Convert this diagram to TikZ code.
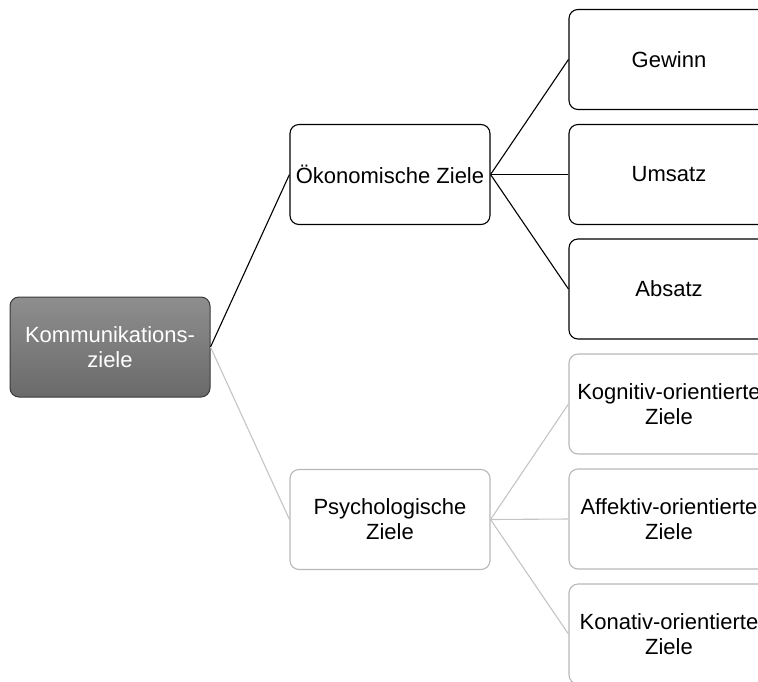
\documentclass[tikz,border=0pt]{standalone}
\usepackage{fontspec}
\setmainfont{Liberation Sans}
\definecolor{lightline}{HTML}{C4C4C4}
\definecolor{lightborder}{HTML}{B8B8B8}
\definecolor{rootborder}{HTML}{3A3A3A}
\definecolor{roottop}{HTML}{8E8E8E}
\definecolor{rootbottom}{HTML}{6A6A6A}
\begin{document}
\begin{tikzpicture}[x=1pt,y=-1pt,
  box/.style={rounded corners=9pt, minimum width=200pt, minimum height=100pt,
    inner sep=0pt, align=center, font=\fontsize{22}{25}\selectfont},
  rootbox/.style={box, draw=rootborder, line width=1pt, top color=roottop,
    bottom color=rootbottom, text=white},
  ecobox/.style={box, draw=black, line width=1.1pt, fill=white},
  psybox/.style={box, draw=lightborder, line width=1.1pt, fill=white},
  ecoline/.style={draw=black, line width=1.1pt},
  psyline/.style={draw=lightline, line width=1.1pt}]
\useasboundingbox (0,0) rectangle (758,681);
\clip (0,0) rectangle (758,681);

% first and second level
\node[rootbox] (root) at (110,347) {Kommunikations-\\ziele};
\node[ecobox]  (oek)  at (390,174.5) {Ökonomische Ziele};
\node[psybox]  (psy)  at (390,519.5) {Psychologische\\Ziele};

% economic goals
\node[ecobox] (gew) at (669,59.5)  {Gewinn};
\node[ecobox] (ums) at (669,174.5) {Umsatz};
\node[ecobox] (abs) at (669,289)   {Absatz};

% psychological goals
\node[psybox] (kog) at (669,404) {Kognitiv-orientierte\\Ziele};
\node[psybox] (aff) at (669,519) {Affektiv-orientierte\\Ziele};
\node[psybox] (kon) at (669,634) {Konativ-orientierte\\Ziele};

% connectors
\draw[ecoline] (root.east) -- (oek.west);
\draw[psyline] (root.east) -- (psy.west);
\draw[ecoline] (oek.east) -- (gew.west);
\draw[ecoline] (oek.east) -- (ums.west);
\draw[ecoline] (oek.east) -- (abs.west);
\draw[psyline] (psy.east) -- (kog.west);
\draw[psyline] (psy.east) -- (aff.west);
\draw[psyline] (psy.east) -- (kon.west);
\end{tikzpicture}
\end{document}
